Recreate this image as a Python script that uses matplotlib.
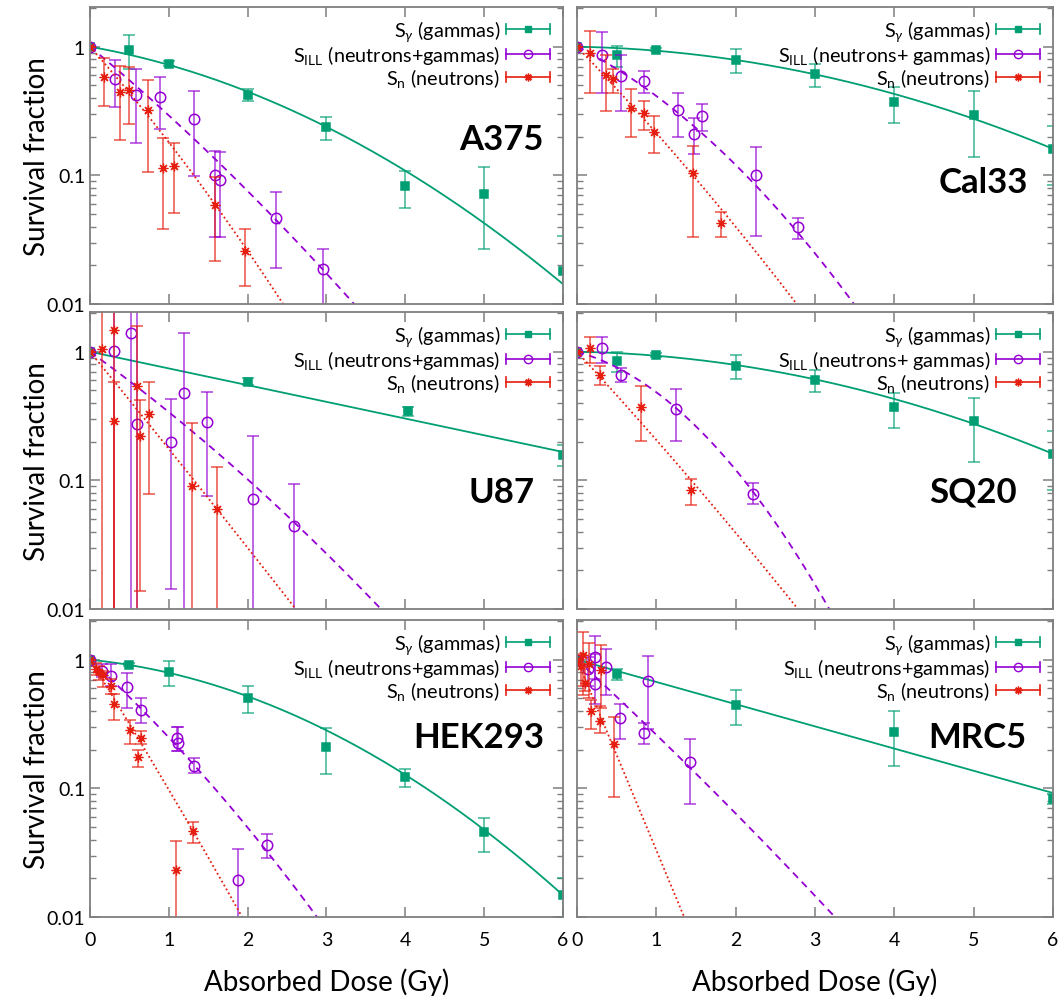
import numpy as np
import matplotlib
matplotlib.use('Agg')
import matplotlib.pyplot as plt
from matplotlib.lines import Line2D
from matplotlib.legend_handler import HandlerBase
from matplotlib.ticker import LogLocator, NullFormatter, FixedLocator

plt.rcParams['font.family'] = ['Lato', 'DejaVu Sans']
plt.rcParams['mathtext.fontset'] = 'custom'
plt.rcParams['mathtext.rm'] = 'Lato'
plt.rcParams['mathtext.it'] = 'Lato:italic'
plt.rcParams['mathtext.bf'] = 'Lato:bold'

# each point: (dose Gy, survival, error low end, error high end)
cells = ['A375', 'Cal33', 'U87', 'SQ20', 'HEK293', 'MRC5']

A375_g = [(0, 1, 1, 1), (0.5, 0.95, 0.67, 1.23), (1, 0.74, 0.71, 0.77), (2, 0.425, 0.377, 0.47),
          (3, 0.238, 0.19, 0.284), (4, 0.083, 0.056, 0.109), (5, 0.072, 0.027, 0.116), (6, 0.018, 0.009, 0.034)]
A375_ill = [(0, 1, 1, 1), (0.32, 0.56, 0.34, 0.79), (0.58, 0.42, 0.18, 0.67), (0.89, 0.41, 0.23, 0.58),
            (1.32, 0.273, 0.098, 0.45), (1.58, 0.10, 0.033, 0.154), (1.65, 0.092, 0.033, 0.152),
            (2.36, 0.0465, 0.019, 0.074), (2.95, 0.0187, 0.008, 0.027)]
A375_n = [(0, 1, 1, 1), (0.18, 0.58, 0.345, 0.82), (0.38, 0.446, 0.19, 0.71), (0.49, 0.46, 0.25, 0.69),
          (0.73, 0.325, 0.106, 0.55), (0.92, 0.115, 0.038, 0.194), (1.06, 0.118, 0.051, 0.18),
          (1.58, 0.059, 0.0216, 0.097), (1.97, 0.0257, 0.0139, 0.038)]

Cal33_g = [(0, 1, 1, 1), (0.5, 0.86, 0.69, 1.02), (1, 0.95, 0.92, 0.98), (2, 0.79, 0.62, 0.96),
           (3, 0.61, 0.49, 0.73), (4, 0.372, 0.257, 0.49), (5, 0.294, 0.14, 0.45), (6, 0.161, 0.084, 0.24)]
Cal33_ill = [(0, 1, 1, 1), (0.31, 0.87, 0.44, 1.31), (0.55, 0.595, 0.318, 0.87), (0.84, 0.545, 0.44, 0.65),
             (1.27, 0.32, 0.198, 0.44), (1.48, 0.211, 0.147, 0.28), (1.57, 0.29, 0.22, 0.356),
             (2.25, 0.10, 0.034, 0.166), (2.78, 0.04, 0.032, 0.047)]
Cal33_n = [(0, 1, 1, 1), (0.17, 0.89, 0.44, 1.33), (0.36, 0.6, 0.318, 0.87), (0.45, 0.56, 0.44, 0.67),
           (0.68, 0.336, 0.198, 0.47), (0.84, 0.305, 0.224, 0.38), (0.97, 0.218, 0.149, 0.29),
           (1.46, 0.105, 0.033, 0.17), (1.81, 0.043, 0.033, 0.052)]

U87_g = [(0, 1, 1, 1), (2.01, 0.586, 0.555, 0.62), (4.03, 0.348, 0.318, 0.375), (6, 0.158, 0.13, 0.19)]
U87_ill = [(0, 1, 1, 1), (0.3, 1.02, 0.001, 10), (0.52, 1.39, 0.001, 10), (0.59, 0.276, 0.001, 10),
           (1.03, 0.2, 0.0144, 0.43), (1.19, 0.48, 0.005, 1.39), (1.49, 0.282, 0.075, 0.488),
           (2.07, 0.072, 0.005, 0.22), (2.59, 0.044, 0.005, 0.094)]
U87_n = [(0, 1, 1, 1), (0.15, 1.05, 0.001, 10), (0.3, 1.48, 0.001, 10), (0.31, 0.29, 0.001, 0.58),
         (0.6, 0.545, 0.001, 1.59), (0.64, 0.22, 0.0138, 0.42), (0.75, 0.33, 0.079, 0.58),
         (1.29, 0.091, 0.005, 0.28), (1.61, 0.06, 0.005, 0.128)]

SQ20_g = [(0, 1, 1, 1), (0.5, 0.852, 0.69, 1.0), (1, 0.94, 0.91, 0.97), (2, 0.78, 0.61, 0.95),
          (3, 0.6, 0.49, 0.72), (4, 0.37, 0.254, 0.48), (5, 0.29, 0.14, 0.44), (6, 0.16, 0.084, 0.24)]
SQ20_ill = [(0, 1, 1, 1), (0.31, 1.06, 0.82, 1.3), (0.55, 0.656, 0.58, 0.75), (1.25, 0.358, 0.204, 0.51),
            (2.22, 0.079, 0.065, 0.095)]
SQ20_n = [(0, 1, 1, 1), (0.16, 1.07, 0.82, 1.3), (0.29, 0.66, 0.55, 0.77), (0.81, 0.37, 0.204, 0.54),
          (1.44, 0.084, 0.064, 0.103)]

HEK293_g = [(0, 1, 1, 1), (0.5, 0.915, 0.89, 0.94), (1, 0.8, 0.63, 0.98), (2, 0.5, 0.387, 0.62),
            (3, 0.211, 0.129, 0.294), (4, 0.123, 0.103, 0.141), (5, 0.0457, 0.0318, 0.059), (6, 0.0148, 0.01, 0.02)]
HEK293_ill = [(0, 1, 1, 1), (0.15, 0.82, 0.73, 0.93), (0.27, 0.75, 0.63, 0.93), (0.47, 0.61, 0.42, 0.79),
              (0.65, 0.41, 0.32, 0.5), (1.1, 0.246, 0.197, 0.30), (1.12, 0.226, 0.197, 0.30),
              (1.32, 0.149, 0.132, 0.171), (1.88, 0.0195, 0.008, 0.034), (2.25, 0.0364, 0.029, 0.044)]
HEK293_n = [(0, 1, 1, 1), (0.07, 0.85, 0.76, 0.95), (0.12, 0.8, 0.7, 0.9), (0.16, 0.76, 0.61, 0.82),
            (0.27, 0.63, 0.54, 0.71), (0.3, 0.45, 0.34, 0.54), (0.51, 0.283, 0.22, 0.34),
            (0.61, 0.175, 0.146, 0.2), (0.65, 0.248, 0.22, 0.28), (1.09, 0.0233, 0.008, 0.039),
            (1.31, 0.0464, 0.0377, 0.055)]

MRC5_g = [(0, 1, 1, 1), (0.5, 0.78, 0.69, 0.85), (2, 0.446, 0.31, 0.58), (4, 0.275, 0.15, 0.4),
          (6, 0.083, 0.076, 0.09)]
MRC5_ill = [(0, 1, 1, 1), (0.14, 0.85, 0.62, 1.06), (0.23, 1.05, 0.71, 1.54), (0.23, 0.65, 0.45, 1.11),
            (0.36, 0.88, 0.53, 1.22), (0.54, 0.35, 0.244, 0.456), (0.85, 0.27, 0.22, 0.32),
            (0.89, 0.68, 0.29, 1.07), (1.42, 0.16, 0.075, 0.24)]
MRC5_n = [(0, 1, 1, 1), (0.05, 0.89, 0.62, 1.1), (0.07, 1.09, 0.53, 1.63), (0.1, 0.665, 0.57, 0.93),
          (0.15, 0.93, 0.5, 1.34), (0.18, 0.4, 0.29, 0.49), (0.29, 0.335, 0.27, 0.44),
          (0.3, 0.84, 0.42, 1.31), (0.47, 0.22, 0.085, 0.356)]

gamma_data = [A375_g, Cal33_g, U87_g, SQ20_g, HEK293_g, MRC5_g]
ill_data = [A375_ill, Cal33_ill, U87_ill, SQ20_ill, HEK293_ill, MRC5_ill]
n_data = [A375_n, Cal33_n, U87_n, SQ20_n, HEK293_n, MRC5_n]

# linear-quadratic fits S = exp(-a D - b D^2)
alpha_g = [0.249, 0.025, 0.299, 0.025, 0.14, 0.3975]
beta_g = [0.0765, 0.0466, 0.0, 0.0466, 0.0937, 0.0]
alpha_ill = [1.169, 0.708, 1.018, 0.393, 1.282, 1.31]
beta_ill = [0.0613, 0.175, 0.0622, 0.332, 0.110, 0.0328]
alpha_n = [1.594, 1.478, 1.724, 1.537, 2.265, 3.41]
beta_n = [0.1165, 0.0667, 0.0154, 0.042, 0.0625, 0.0]

label_g = r'S$_{\gamma}$ (gammas)'
label_ill = [r'S$_{\rm ILL}$ (neutrons+gammas)', r'S$_{\rm ILL}$ (neutrons+ gammas)',
             r'S$_{\rm ILL}$ (neutrons+gammas)', r'S$_{\rm ILL}$ (neutrons+ gammas)',
             r'S$_{\rm ILL}$ (neutrons+gammas)', r'S$_{\rm ILL}$ (neutrons+gammas)']
label_n = r'S$_{\rm n}$ (neutrons)'

GREEN = '#009e73'
PURPLE = '#9400d3'
RED = '#e51e10'
GRAY = '#7f7f7f'

# name label placement (axes fraction)
name_pos = [(0.958, 0.556), (0.947, 0.41), (0.939, 0.394), (0.924, 0.394), (0.96, 0.606), (0.945, 0.606)]


class HBarHandler(HandlerBase):
    # gnuplot style key: horizontal bar with end caps and marker in the middle
    def create_artists(self, legend, orig, xdescent, ydescent, width, height, fontsize, trans):
        y = height / 2 - ydescent
        x0, x1 = -xdescent, width - xdescent
        h = height * 0.38
        c = orig.get_color()
        ln = Line2D([x0, x1], [y, y], color=c, lw=1.2)
        caps = Line2D([x0, x0, np.nan, x1, x1], [y - h, y + h, np.nan, y - h, y + h], color=c, lw=1.2)
        mk = Line2D([(x0 + x1) / 2], [y], marker=orig.get_marker(), ms=orig.get_markersize(),
                    mfc=orig.get_markerfacecolor(), mec=orig.get_markeredgecolor(),
                    mew=orig.get_markeredgewidth(), linestyle='none')
        for a in (ln, caps, mk):
            a.set_transform(trans)
        return [ln, caps, mk]


fig = plt.figure(figsize=(10.64, 10.03), dpi=100)
lefts = [0.0846, 0.5423]
widths = [0.4445, 0.4474]
bottoms = [0.6959, 0.3918, 0.0847]
height = 0.2965

dd = np.linspace(0, 6, 300)
styles = [
    (GREEN, 's', 6, GREEN, '-', None, 1.1),
    (PURPLE, 'o', 7.5, 'none', '--', (4, 3), 1.1),
    (RED, (8, 2, 0), 7, RED, ':', (1, 1.5), 0.9),
]

for i, name in enumerate(cells):
    r, c = divmod(i, 2)
    ax = fig.add_axes([lefts[c], bottoms[r], widths[c], height])
    ax.set_yscale('log')
    ax.set_xlim(0, 6)
    ax.set_ylim(0.01, 2.05)

    fits = [(alpha_g[i], beta_g[i]), (alpha_ill[i], beta_ill[i]), (alpha_n[i], beta_n[i])]
    series = [gamma_data[i], ill_data[i], n_data[i]]
    handles = []
    for (col, mk, ms, mfc, ls, dash, mew), pts, (a, b) in zip(styles, series, fits):
        arr = np.array(pts, dtype=float)
        x, s, lo, hi = arr[:, 0], arr[:, 1], arr[:, 2], arr[:, 3]
        curve, = ax.plot(dd, np.exp(-a * dd - b * dd ** 2), color=col, lw=1.3, ls=ls)
        if dash is not None:
            curve.set_dashes(dash)
        ax.errorbar(x, s, yerr=[s - lo, hi - s], fmt='none', ecolor=col, elinewidth=1.2,
                    capsize=4, capthick=1.2, alpha=0.7)
        ax.plot(x, s, linestyle='none', marker=mk, ms=ms, mfc=mfc, mec=col, mew=mew)
        handles.append(Line2D([], [], color=col, marker=mk, ms=ms * 0.8, mfc=mfc, mec=col, mew=1.0))

    leg = ax.legend(handles, [label_g, label_ill[i], label_n], loc='upper right',
                    bbox_to_anchor=(1.006, 1.015), frameon=False, markerfirst=False,
                    fontsize=14.3, handlelength=2.2, handletextpad=0.3, labelspacing=0.0,
                    borderpad=0.3, handler_map={Line2D: HBarHandler()})
    ax.text(name_pos[i][0], name_pos[i][1], name, transform=ax.transAxes, ha='right', va='center',
            fontsize=25, fontweight='bold')

    ax.xaxis.set_major_locator(FixedLocator([0, 1, 2, 3, 4, 5, 6]))
    ax.yaxis.set_major_locator(FixedLocator([0.01, 0.1, 1]))
    ax.yaxis.set_minor_locator(LogLocator(base=10, subs=np.arange(2, 10)))
    ax.yaxis.set_minor_formatter(NullFormatter())
    ax.tick_params(which='both', direction='in', top=True, right=True, color=GRAY, labelsize=14)
    ax.tick_params(which='major', length=7, width=1.1)
    ax.tick_params(which='minor', length=4, width=1.0)
    for sp in ax.spines.values():
        sp.set_color(GRAY)
        sp.set_linewidth(1.3)

    if c == 0:
        ax.set_yticklabels(['0.01', '0.1', '1'])
        ax.set_ylabel('Survival fraction', fontsize=20)
        ax.yaxis.set_label_coords(-0.085, 0.5)
    else:
        ax.set_yticklabels([])
    if r == 2:
        ax.set_xticklabels(['0', '1', '2', '3', '4', '5', '6'])
        ax.set_xlabel('Absorbed Dose (Gy)', fontsize=20, labelpad=14)
        ax.tick_params(axis='x', pad=10)
    else:
        ax.set_xticklabels([])

fig.savefig('out.png', dpi=100)
